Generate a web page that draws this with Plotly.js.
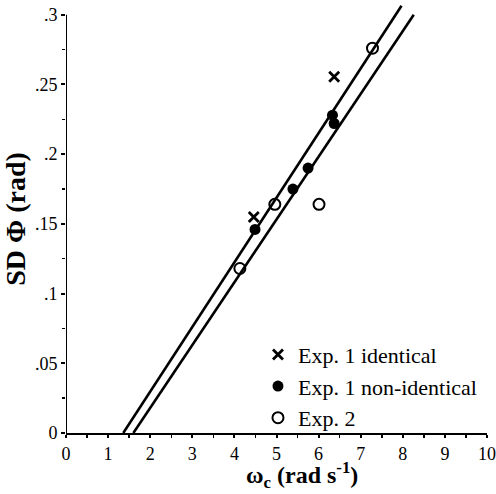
<!DOCTYPE html>
<html>
<head>
<meta charset="utf-8">
<script src="https://cdn.plot.ly/plotly-3.0.1.min.js"></script>
<style>html,body{margin:0;padding:0;background:#fff;}#plot{width:496px;height:494px;}</style>
</head>
<body>
<div id="plot"></div>
<script>
// Data
const identX = [4.46, 6.37];
const identY = [0.155, 0.2555];
const nonIdentX = [4.49, 5.39, 5.75, 6.33, 6.37];
const nonIdentY = [0.146, 0.175, 0.190, 0.228, 0.222];
const exp2X = [4.13, 4.96, 6.01, 7.28];
const exp2Y = [0.118, 0.164, 0.164, 0.276];
const fit1X = [1.36, 7.97];
const fit1Y = [0, 0.3065];
const fit2X = [1.60, 8.26];
const fit2Y = [0, 0.300];
const yTickVals = [0, 0.05, 0.1, 0.15, 0.2, 0.25, 0.3];
const yTickText = ['0', '.05', '.1', '.15', '.2', '.25', '.3'];
const xTickVals = [0, 1, 2, 3, 4, 5, 6, 7, 8, 9, 10];
const xTitle = '<b>ω<sub>c</sub> (rad s<sup>-1</sup>)</b>';
const yTitle = '<b>SD Φ (rad)</b>';

const serif = 'Liberation Serif, Times New Roman, serif';
const lineStyle = {color: '#000', width: 2.6};

const traces = [
  {x: fit1X, y: fit1Y, mode: 'lines', line: lineStyle, showlegend: false, hoverinfo: 'skip'},
  {x: fit2X, y: fit2Y, mode: 'lines', line: lineStyle, showlegend: false, hoverinfo: 'skip'},
  {x: identX, y: identY, mode: 'markers', name: 'Exp. 1 identical',
   marker: {symbol: 'x-thin', size: 10, color: '#000', line: {width: 2.8, color: '#000'}}},
  {x: nonIdentX, y: nonIdentY, mode: 'markers', name: 'Exp. 1 non-identical',
   marker: {symbol: 'circle', size: 11, color: '#000', line: {width: 0}}},
  {x: exp2X, y: exp2Y, mode: 'markers', name: 'Exp. 2',
   marker: {symbol: 'circle-open', size: 11, color: '#000', line: {width: 2, color: '#000'}}}
];

const layout = {
  width: 496, height: 494,
  margin: {l: 66, r: 9, t: 5, b: 61},
  paper_bgcolor: '#fff', plot_bgcolor: '#fff',
  font: {family: serif, color: '#000', size: 18},
  showlegend: true,
  legend: {x: 0.456, y: 0.232, xanchor: 'left', yanchor: 'top',
           font: {family: serif, size: 22, color: '#000'},
           bgcolor: 'rgba(0,0,0,0)', itemwidth: 30, tracegroupgap: 0},
  xaxis: {
    range: [0, 10], showgrid: false, zeroline: false,
    showline: true, linecolor: '#000', linewidth: 2,
    ticks: 'outside', ticklen: 3, tickwidth: 2, tickcolor: '#000',
    tickvals: xTickVals, ticklabeloverflow: 'allow',
    minor: {dtick: 0.5, ticks: 'outside', ticklen: 3, tickwidth: 1.5, tickcolor: '#000'},
    tickfont: {family: serif, size: 18, color: '#000'}
  },
  yaxis: {
    range: [0, 0.307], showgrid: false, zeroline: false,
    showline: false,
    ticks: 'outside', ticklen: 4, tickwidth: 2, tickcolor: '#000',
    tickvals: yTickVals, ticktext: yTickText,
    minor: {tickvals: [0.025, 0.075, 0.125, 0.175, 0.225, 0.275], ticks: 'outside', ticklen: 3, tickwidth: 1.5, tickcolor: '#000'},
    tickfont: {family: serif, size: 18, color: '#000'},
    title: {text: yTitle, font: {family: serif, size: 28, color: '#000'}, standoff: 2}
  },
  annotations: [
    {text: xTitle, xref: 'paper', yref: 'paper', x: 0.561, y: -0.1425,
     xanchor: 'center', yanchor: 'bottom', showarrow: false,
     font: {family: serif, size: 24, color: '#000'}}
  ],
  shapes: [
    {type: 'line', xref: 'x', yref: 'y', x0: 0, x1: 0, y0: 0, y1: 0.3, line: {color: '#000', width: 2}}
  ]
};

Plotly.newPlot('plot', traces, layout, {staticPlot: true, displayModeBar: false});
</script>
</body>
</html>
